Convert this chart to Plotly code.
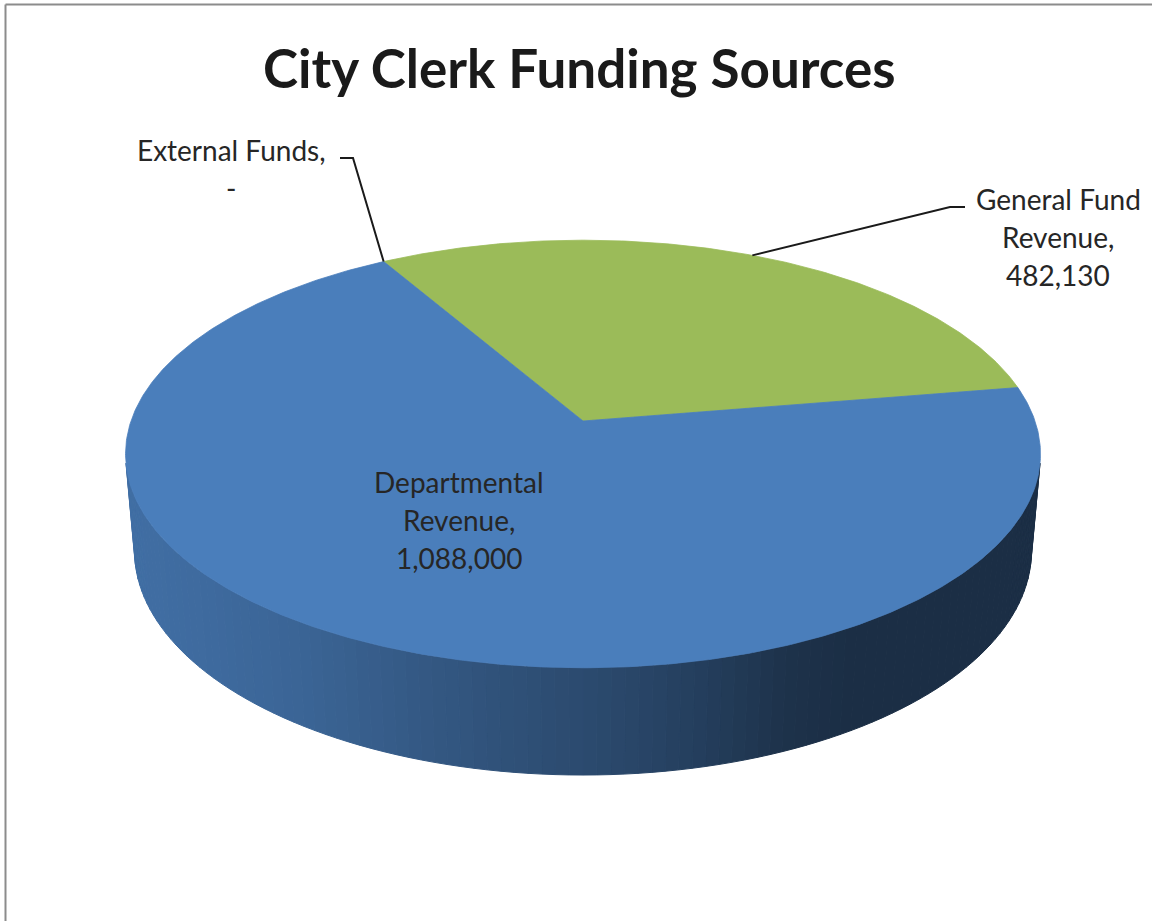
import numpy as np
import plotly.graph_objects as go

# ---- data ----
categories = ["External Funds", "General Fund Revenue", "Departmental Revenue"]
values = [0, 482130, 1088000]
value_text = ["-", "482,130", "1,088,000"]
slice_colors = ["#c0504d", "#9bbb59", "#4a7ebb"]
first_slice_angle = 330.0  # degrees, clockwise from 12 o'clock

# ---- 3D pie projection (perspective view of a flat cylinder) ----
W, H = 1152, 921
CX, CY = 583.0, 421.0
TILT = np.radians(27.5)
DIST = 5.75
FOCAL = 2599.0
THICK = 0.2435


def project(phi_deg, w=0.0, r=1.0):
    phi = np.radians(phi_deg)
    u = r * np.sin(phi)
    v = -r * np.cos(phi)
    c, s = np.cos(TILT), np.sin(TILT)
    depth = DIST - (v * c + w * s)
    sx = CX + FOCAL * u / depth
    sy = CY - FOCAL * (-v * s + w * c) / depth
    return sx, sy


def hex_rgb(h):
    h = h.lstrip("#")
    return tuple(int(h[i:i + 2], 16) for i in (0, 2, 4))


# side lighting: brightness factor against screen x
shade_x = [120, 200, 300, 430, 530, 620, 700, 790, 850, 1050]
shade_f = [0.88, 0.85, 0.80, 0.70, 0.63, 0.57, 0.50, 0.40, 0.37, 0.37]


def shaded(color, x):
    f = np.interp(x, shade_x, shade_f)
    r, g, b = hex_rgb(color)
    return "rgb(%d,%d,%d)" % (r * f, g * f, b * f)


# slice angle spans from the values
total = float(sum(values))
spans = []
a = first_slice_angle
for v in values:
    sweep = 360.0 * v / total
    spans.append((a, a + sweep))
    a += sweep

fig = go.Figure()

# visible front side band (outward normal facing the camera)
v_lim = 1.0 / (DIST * np.cos(TILT))
phi_sil = np.degrees(np.arccos(-v_lim))  # angle where side turns away
side_lo, side_hi = phi_sil, 360.0 - phi_sil

for (a0, a1), col, val in zip(spans, slice_colors, values):
    if val <= 0:
        continue
    # unwrap into [0, 360) pieces and intersect with front arc
    for off in (-360.0, 0.0, 360.0):
        lo = max(a0 + off, side_lo)
        hi = min(a1 + off, side_hi)
        if hi <= lo:
            continue
        n = max(2, int((hi - lo) / 1.5))
        edges = np.linspace(lo, hi, n + 1)
        for p0, p1 in zip(edges[:-1], edges[1:]):
            ps = np.linspace(p0, p1, 4)
            tx, ty = project(ps, 0.0)
            bx, by = project(ps[::-1], -THICK)
            xs = np.concatenate([tx, bx, tx[:1]])
            ys = np.concatenate([ty, by, ty[:1]])
            c = shaded(col, float(np.mean(tx)))
            fig.add_trace(go.Scatter(
                x=xs, y=ys, mode="lines", fill="toself",
                fillcolor=c, line=dict(color=c, width=1),
                hoverinfo="skip", showlegend=False))

# top faces
for (a0, a1), col, val in zip(spans, slice_colors, values):
    if val <= 0:
        continue
    ps = np.linspace(a0, a1, max(3, int((a1 - a0) * 2)))
    rx, ry = project(ps, 0.0)
    xs = np.concatenate([[CX], rx, [CX]])
    ys = np.concatenate([[CY], ry, [CY]])
    fig.add_trace(go.Scatter(
        x=xs, y=ys, mode="lines", fill="toself",
        fillcolor=col, line=dict(color=col, width=0.8),
        hoverinfo="skip", showlegend=False))

# ---- data labels and leader lines ----
label_font = dict(family="Lato, Calibri, sans-serif", size=28, color="#262626")
label_pos = {
    "External Funds": (231, [150, 188]),
    "General Fund Revenue": (1058, [199, 237, 275]),
    "Departmental Revenue": (459, [482, 520, 558]),
}
label_lines = {
    "External Funds": ["External Funds,", value_text[0]],
    "General Fund Revenue": ["General Fund", "Revenue,", value_text[1]],
    "Departmental Revenue": ["Departmental", "Revenue,", value_text[2]],
}
for name in categories:
    lx, ys = label_pos[name]
    for txt, yy in zip(label_lines[name], ys):
        fig.add_annotation(x=lx, y=yy, xref="x", yref="y", text=txt,
                           showarrow=False, xanchor="center", yanchor="middle",
                           font=label_font)

# leader lines from slice rims to labels
ext_a = spans[0][0]
gf_mid = 0.5 * (spans[1][0] + spans[1][1])
ex0, ey0 = project(ext_a, 0.0)
gx0, gy0 = project(gf_mid, 0.0)
leaders = [
    ([float(ex0), 353, 340], [float(ey0), 158, 158]),
    ([float(gx0), 950, 965], [float(gy0), 207, 207]),
]
for lx, ly in leaders:
    fig.add_trace(go.Scatter(x=lx, y=ly, mode="lines",
                             line=dict(color="#1a1a1a", width=2),
                             hoverinfo="skip", showlegend=False))

# ---- title ----
fig.add_annotation(x=579, y=67, xref="x", yref="y",
                   text="<b>City Clerk Funding Sources</b>", showarrow=False,
                   xanchor="center", yanchor="middle",
                   font=dict(family="Lato, Calibri, sans-serif", size=53, color="#1a1a1a"))

# chart area border (top and left edges)
fig.add_shape(type="line", x0=5.5, y0=4.5, x1=W, y1=4.5, xref="x", yref="y",
              line=dict(color="#8c8c8c", width=2))
fig.add_shape(type="line", x0=5.5, y0=4.5, x1=5.5, y1=H, xref="x", yref="y",
              line=dict(color="#8c8c8c", width=2))

fig.update_layout(
    width=W, height=H, autosize=False,
    margin=dict(l=0, r=0, t=0, b=0),
    paper_bgcolor="white", plot_bgcolor="white",
    xaxis=dict(range=[0, W], visible=False, fixedrange=True),
    yaxis=dict(range=[H, 0], visible=False, fixedrange=True),
    showlegend=False,
)

fig.write_html("out.html")
